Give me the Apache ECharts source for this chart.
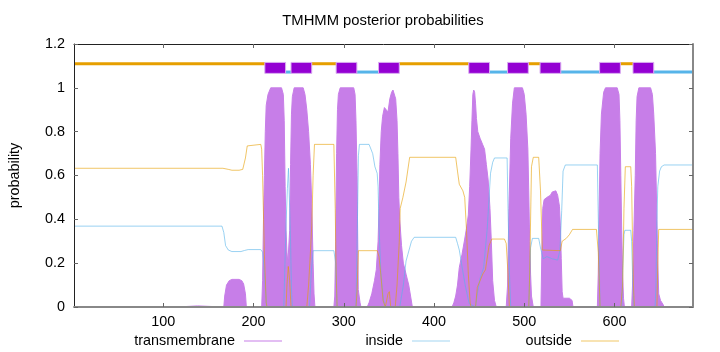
<!DOCTYPE html>
<html><head><meta charset="utf-8">
<script src="https://cdn.jsdelivr.net/npm/echarts@6/dist/echarts.min.js"></script>
<style>html,body{margin:0;padding:0;background:#fff}#c{width:720px;height:352px}</style>
</head><body><div id="c"></div>
<script>
const xTicks = [100, 200, 300, 400, 500, 600];
const seqLength = 687;

// posterior probability of transmembrane helix
const tmPoints = [
  [1,0],[115,0],[117,0.005],[138,0.005],[140,0],
  [167,0],[168,0.05],[170,0.1],[173,0.12],[176,0.126],[184,0.126],[187,0.12],[189,0.105],[191,0.06],[192,0],
  [209,0],[210,0.12],[211,0.4],[212,0.6],[213,0.8],[214,0.92],[216,0.97],[219,1],[231,1],[233,0.97],[234,0.85],[235,0.55],[236,0.35],[237,0.25],[238,0.2],[239,0.2],[240,0.35],[241,0.65],[242,0.88],[243,0.96],[245,1],[255,1],[257,0.97],[259,0.9],[261,0.8],[263,0.65],[264.5,0.47],[266,0.2],[267,0.06],[268,0],
  [289,0],[290,0.05],[291,0.3],[292,0.7],[293,0.9],[294,0.97],[296,1],[311,1],[312.5,0.97],[313.5,0.85],[314.7,0.6],[316,0.08],[318,0.02],[319,0],
  [326,0],[328,0.02],[331,0.06],[334,0.12],[336,0.17],[338,0.3],[339,0.45],[340,0.65],[341.5,0.8],[343,0.87],[345,0.91],[347,0.9],[349,0.89],[351,0.95],[353,0.98],[354.5,0.99],[356,0.99],[357.5,0.95],[359,0.85],[360,0.7],[361,0.5],[362,0.4],[364,0.28],[366,0.2],[369,0.15],[372,0.1],[374,0.05],[376,0],
  [420,0],[422,0.02],[424,0.05],[426,0.1],[428,0.18],[431,0.24],[434,0.31],[436,0.36],[438,0.42],[439.5,0.55],[441,0.72],[442,0.85],[443,0.97],[444,0.99],[445,0.98],[446,0.93],[447,0.86],[448.5,0.8],[451,0.77],[454,0.74],[456,0.72],[458,0.65],[460,0.58],[462,0.45],[463.5,0.3],[465,0.12],[467,0.03],[469,0],
  [480,0],[481.5,0.1],[483,0.45],[485,0.77],[487,0.93],[489,1],[498,1],[500,0.97],[502,0.88],[504,0.72],[505,0.52],[506,0.3],[507,0.15],[508,0.05],[510,0],
  [518.5,0],[519.5,0.25],[520.5,0.45],[522,0.49],[525,0.5],[529,0.51],[531,0.525],[535,0.53],[537,0.51],[539,0.46],[540,0.37],[541,0.22],[542,0.07],[543,0.04],[550,0.04],[553,0.03],[554,0],
  [581,0],[582,0.15],[583,0.45],[584,0.7],[585.5,0.88],[588,0.98],[590,1],[603,1],[605,0.97],[606,0.85],[607,0.6],[608,0.35],[609,0.15],[610,0.04],[611,0],
  [619,0],[620,0.1],[621.5,0.35],[623,0.6],[624,0.85],[625,0.96],[627,1],[640,1],[642,0.97],[643.5,0.88],[645.5,0.7],[647,0.4],[648,0.2],[649,0.06],[651,0.03],[654,0.01],[655,0],[687,0]
];

// posterior probability of inside
const insidePoints = [
  [1,0.369],[165,0.369],[167,0.34],[169,0.28],[172,0.26],[176,0.253],[186,0.253],[190,0.258],[194,0.262],[208,0.262],[210,0.25],[211.5,0.19],[213,0.1],[214.5,0],
  [233.5,0],[235,0.23],[236,0.38],[237.5,0.54],[238.7,0.633],[240,0.45],[241,0.3],[242,0.08],[243,0],
  [262,0],[264,0.16],[266,0.257],[289,0.257],[291,0.2],[292.6,0],
  [313.5,0],[314.7,0.27],[316.2,0.69],[317.3,0.742],[328,0.742],[332,0.7],[334.5,0.64],[337,0.61],[338,0.55],[339,0.37],[341,0.16],[344,0.03],[346,0],
  [362,0],[366,0.1],[369,0.21],[371,0.24],[375,0.3],[378,0.318],[424,0.318],[426,0.29],[428,0.26],[431.6,0.17],[435,0.09],[439,0.015],[446,0],[448,0.06],[451,0.13],[455,0.18],[459,0.36],[462.6,0.61],[465,0.66],[467,0.68],[481,0.68],[482,0.45],[483.6,0.15],[485,0],
  [505,0],[507,0.27],[509,0.313],[516,0.313],[518,0.27],[521,0.22],[525,0.23],[531,0.22],[537,0.214],[539.6,0.26],[541.5,0.44],[543,0.62],[545.5,0.648],[581,0.648],[582.5,0.3],[584,0],
  [608,0],[609,0.15],[610.5,0.33],[611.5,0.35],[618,0.35],[619,0.3],[620,0.15],[621,0.03],[622,0],
  [645,0],[646,0.1],[647,0.4],[648,0.55],[650,0.62],[652,0.64],[655,0.648],[687,0.648]
];

// posterior probability of outside
const outsidePoints = [
  [1,0.633],[166,0.633],[172,0.628],[176,0.624],[184,0.624],[188,0.628],[191,0.68],[193,0.735],[195,0.742],[208,0.742],[209,0.72],[210,0.6],[212,0.24],[214,0.02],[215,0],
  [236,0],[237,0.1],[238.5,0.185],[240,0.12],[241.5,0],
  [259,0],[261,0.1],[263,0.25],[264.5,0.37],[266,0.6],[267.5,0.742],[289,0.742],[290.5,0.45],[291.5,0.16],[292.6,0],
  [313.5,0],[314.7,0.07],[316.2,0.257],[337,0.257],[339,0.23],[341,0.15],[343.5,0.03],[346,0],[349,0.06],[350.5,0.07],[352,0],[357,0],[359,0.1],[361.5,0.3],[362.5,0.45],[365.5,0.5],[369,0.57],[373,0.683],
  [424,0.683],[426,0.62],[428,0.56],[432,0.53],[434,0.5],[436,0.35],[438,0.15],[440,0.02],[441,0],[446,0],[448,0.09],[450,0.11],[454,0.15],[457,0.17],[461,0.28],[464,0.31],[478,0.31],[480,0.29],[482,0.15],[483.5,0],
  [505,0],[506,0.15],[508,0.64],[510,0.683],[516,0.683],[518,0.53],[520,0.26],[540,0.257],[542,0.3],[546.5,0.313],[550,0.33],[553.5,0.354],[580,0.354],[582,0.25],[584,0],
  [607,0],[609,0.1],[610.5,0.45],[612,0.64],[618,0.64],[619,0.55],[620,0.3],[621,0.1],[622,0],
  [647,0],[648,0.2],[649,0.354],[687,0.354]
];

// predicted topology (top band)
const segStart = [1, 213, 236, 242, 265, 292, 315, 339, 362, 439, 462, 482, 505, 518, 541, 584, 607, 621, 644];
const segEnd   = [212, 235, 241, 264, 291, 314, 338, 361, 438, 461, 481, 504, 517, 540, 583, 606, 620, 643, 687];
const segType  = ['outside','TMhelix','inside','TMhelix','outside','TMhelix','inside','TMhelix','outside','TMhelix','inside','TMhelix','outside','TMhelix','inside','TMhelix','outside','TMhelix','inside'];

const typeCode = {outside: 0, TMhelix: 1, inside: 2};
const bandData = segStart.map((s, i) => [s, segEnd[i], typeCode[segType[i]]]);

const FONT = 'Liberation Sans';

function renderBand(params, api) {
  const t = api.value(2);
  const x0 = api.coord([api.value(0) - 0.5, 0])[0];
  const x1 = api.coord([api.value(1) + 0.5, 0])[0];
  if (t === 1) {
    const yTop = api.coord([0, 1.116])[1];
    const yBot = api.coord([0, 1.066])[1];
    return {type: 'rect', z2: 10,
      shape: {x: x0, y: yTop, width: x1 - x0, height: yBot - yTop},
      style: {fill: '#9400d3', stroke: '#d9aef0', lineWidth: 1}};
  }
  const yc = api.coord([0, t === 0 ? 1.110 : 1.072])[1];
  return {type: 'rect', z2: 1,
    shape: {x: x0, y: yc - 1.5, width: x1 - x0, height: 3},
    style: {fill: t === 0 ? '#e69f00' : '#56b4e9'}};
}

const chart = echarts.init(document.getElementById('c'), null, {renderer: 'canvas'});
const tickCommon = {show: true, inside: true, length: 4, lineStyle: {color: '#666', width: 1}};
const legendCommon = {
  orient: 'horizontal', align: 'right', icon: 'rect', itemWidth: 38, itemHeight: 1,
  top: 334, padding: 0,
  textStyle: {fontFamily: FONT, fontSize: 14.4, color: '#000', padding: [0, 4, 0, 0]}
};

chart.setOption({
  animation: false,
  backgroundColor: '#fff',
  title: {
    text: 'TMHMM posterior probabilities',
    left: 383, top: 13, padding: 0, textAlign: 'center',
    textStyle: {fontFamily: FONT, fontSize: 14.8, fontWeight: 'normal', color: '#000'}
  },
  grid: {left: 73, right: 27, top: 44, bottom: 45},
  legend: [
    Object.assign({}, legendCommon, {right: 438, data: [{name: 'transmembrane', itemStyle: {color: '#c77ee8'}}]}),
    Object.assign({}, legendCommon, {right: 270, data: [{name: 'inside', itemStyle: {color: '#a3d5f2'}}]}),
    Object.assign({}, legendCommon, {right: 101, data: [{name: 'outside', itemStyle: {color: '#f2c766'}}]})
  ],
  xAxis: [
    {type: 'value', min: 1, max: seqLength, position: 'bottom', z: 10,
      axisLine: {show: true, onZero: false, lineStyle: {color: '#888', width: 2}},
      axisTick: Object.assign({}, tickCommon, {customValues: xTicks}),
      axisLabel: {customValues: xTicks, margin: 8, fontFamily: FONT, fontSize: 14.4, color: '#000'},
      splitLine: {show: false}},
    {type: 'value', min: 1, max: seqLength, position: 'top',
      axisLine: {show: true, onZero: false, lineStyle: {color: '#222', width: 1}},
      axisTick: Object.assign({}, tickCommon, {customValues: xTicks}),
      axisLabel: {show: false},
      splitLine: {show: false}}
  ],
  yAxis: [
    {type: 'value', min: 0, max: 1.2, interval: 0.2, position: 'left', z: 10,
      name: 'probability', nameLocation: 'middle', nameGap: 52, nameRotate: 90,
      nameTextStyle: {fontFamily: FONT, fontSize: 14.4, color: '#000'},
      axisLine: {show: true, onZero: false, lineStyle: {color: '#222', width: 1}},
      axisTick: tickCommon,
      axisLabel: {margin: 9, fontFamily: FONT, fontSize: 14.4, color: '#000'},
      splitLine: {show: false}},
    {type: 'value', min: 0, max: 1.2, interval: 0.2, position: 'right', z: 10,
      axisLine: {show: true, onZero: false, lineStyle: {color: '#888', width: 2}},
      axisTick: tickCommon,
      axisLabel: {show: false},
      splitLine: {show: false}}
  ],
  series: [
    {name: 'transmembrane', type: 'line', xAxisIndex: 0, yAxisIndex: 0, data: tmPoints,
      symbol: 'none', lineStyle: {color: '#c77ee8', width: 1},
      itemStyle: {color: '#c77ee8'},
      areaStyle: {color: '#c77ee8', opacity: 1}, z: 2},
    {name: 'inside', type: 'line', xAxisIndex: 0, yAxisIndex: 0, data: insidePoints,
      symbol: 'none', lineStyle: {color: '#56b4e9', width: 1, opacity: 0.6},
      itemStyle: {color: '#a3d5f2'}, z: 3},
    {name: 'outside', type: 'line', xAxisIndex: 0, yAxisIndex: 0, data: outsidePoints,
      symbol: 'none', lineStyle: {color: '#e69f00', width: 1, opacity: 0.6},
      itemStyle: {color: '#f2c766'}, z: 4},
    {name: 'topology', type: 'custom', xAxisIndex: 0, yAxisIndex: 0, data: bandData,
      renderItem: renderBand, clip: true, z: 5, silent: true}
  ]
});
</script>
</body></html>
